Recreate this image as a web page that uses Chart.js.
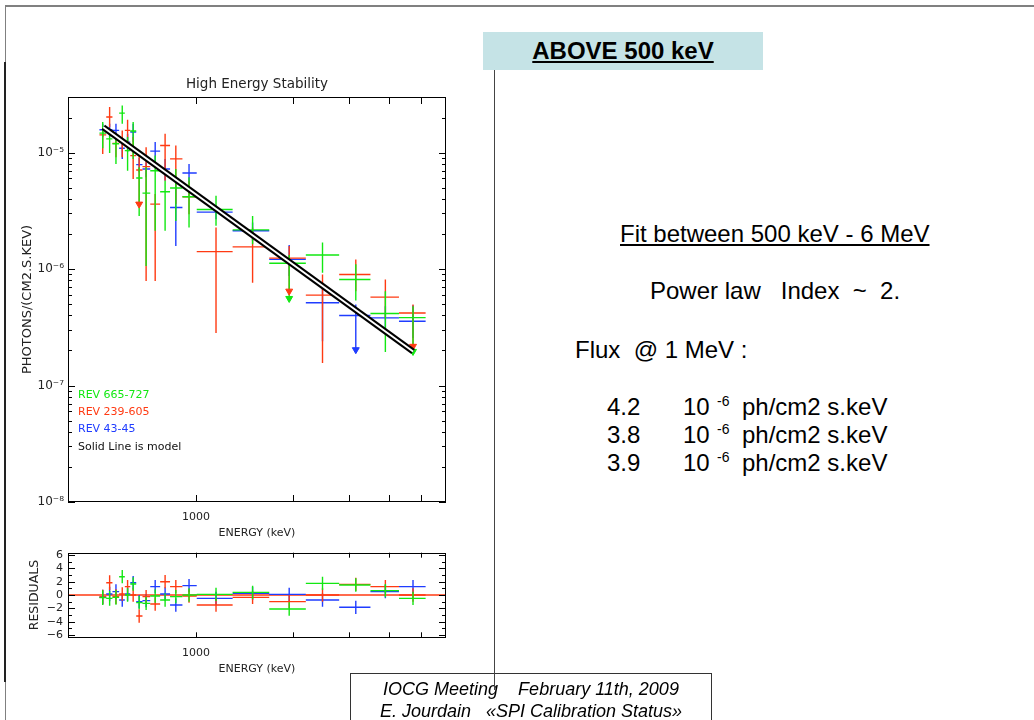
<!DOCTYPE html>
<html>
<head>
<meta charset="utf-8">
<title>High Energy Stability</title>
<script src="https://cdn.jsdelivr.net/npm/chart.js@4.4.1/dist/chart.umd.min.js"></script>
<style>
  html, body { margin: 0; padding: 0; background: #fff; }
  body { position: relative; width: 1034px; height: 720px; overflow: hidden; font-family: "Liberation Sans", Arial, sans-serif; color: #000; }
  .abs { position: absolute; }
  .txt { position: absolute; font-size: 24px; line-height: 24px; white-space: pre; }
  .sup { position: absolute; font-size: 14px; line-height: 14px; white-space: pre; }
  #topRule { left: 5px; top: 5px; width: 1029px; height: 2px; background: #808080; }
  #leftRule { left: 5px; top: 5px; width: 1px; height: 715px; background: #808080; }
  #leftBar { left: 4px; top: 62px; width: 2px; height: 620px; background: #222; }
  #header { left: 483px; top: 32px; width: 280px; height: 38px; background: #c5e3e6; font-weight: bold; font-size: 24px; text-align: center; line-height: 38px; }
  #header span { text-decoration: underline; }
  #divider { left: 494px; top: 70px; width: 1px; height: 620px; background: #444; z-index: 3; }
  #footer { left: 350px; top: 673px; width: 362px; height: 60px; border: 1px solid #333; box-sizing: border-box; padding-top: 4px; font-style: italic; font-size: 18px; line-height: 22px; text-align: center; white-space: pre; }
  canvas { position: absolute; }
</style>
</head>
<body>
<div id="topRule" class="abs"></div>
<div id="leftRule" class="abs"></div>
<div id="leftBar" class="abs"></div>

<canvas id="spectrumChart" width="460" height="475" style="left:0;top:70px"></canvas>
<canvas id="residualChart" width="460" height="145" style="left:0;top:535px"></canvas>

<div id="header" class="abs"><span>ABOVE 500 keV</span></div>
<div id="divider" class="abs"></div>

<div class="txt" style="left:620px;top:222px;text-decoration:underline">Fit between 500 keV - 6 MeV</div>
<div class="txt" style="left:650px;top:279px">Power law   Index  ~  2.</div>
<div class="txt" style="left:575px;top:338px">Flux  @ 1 MeV :</div>

<div class="txt" style="left:607px;top:395px">4.2</div>
<div class="txt" style="left:683px;top:395px">10</div>
<div class="sup" style="left:717px;top:394px">-6</div>
<div class="txt" style="left:742px;top:395px">ph/cm2 s.keV</div>

<div class="txt" style="left:607px;top:423px">3.8</div>
<div class="txt" style="left:683px;top:423px">10</div>
<div class="sup" style="left:717px;top:422px">-6</div>
<div class="txt" style="left:742px;top:423px">ph/cm2 s.keV</div>

<div class="txt" style="left:607px;top:451px">3.9</div>
<div class="txt" style="left:683px;top:451px">10</div>
<div class="sup" style="left:717px;top:450px">-6</div>
<div class="txt" style="left:742px;top:451px">ph/cm2 s.keV</div>

<div id="footer" class="abs">IOCG Meeting    February 11th, 2009
E. Jourdain   «SPI Calibration Status»</div>

<script>
// energy bins (keV)
const energy   = [513, 539, 564, 590, 613, 638, 666, 700, 747, 802, 866, 952, 1155, 1501, 1951, 2477, 3144, 3886, 4737];
const energyLo = [501, 526, 550, 577, 601, 625, 652, 682, 721, 774, 831, 908, 1006, 1301, 1691, 2198, 2791, 3492, 4284];
const energyHi = [526, 550, 577, 601, 625, 652, 682, 721, 774, 831, 908, 1006, 1301, 1691, 2198, 2791, 3492, 4284, 5185];

const seriesLabels = ["REV 665-727", "REV 239-605", "REV 43-45"];
const seriesColors = ["#12e812", "#ff3a12", "#1f3cff"];
const modelLabel = "Solid Line is model";

// REV 665-727 (photons/cm2/s/keV)
const greenFlux = [1.47e-5, 1.31e-5, 1.19e-5, 2.18e-5, 1.04e-5, 1.53e-5, 6.05e-6, 4.49e-6, 6.99e-6, 4.61e-6, 4.96e-6, 4.17e-6, 3.25e-6, 2.17e-6, 1.12e-6, 1.32e-6, 8.14e-7, 4.15e-7, 3.83e-7];
const greenHi   = [1.83e-5, 1.60e-5, 1.45e-5, 2.54e-5, 1.36e-5, 1.83e-5, 7.47e-6, 7.47e-6, 9.42e-6, 5.74e-6, 7.23e-6, 6.13e-6, 4.26e-6, 2.86e-6, 1.32e-6, 1.69e-6, 1.10e-6, 6.46e-7, 4.80e-7];
const greenLo   = [1.09e-5, 9.93e-6, 7.99e-6, 1.77e-5, 6.99e-6, 8.82e-6, 2.86e-6, 1.06e-6, 2.13e-6, 2.13e-6, 2.59e-6, 2.27e-6, 2.35e-6, 1.63e-6, 5.59e-7, 9.30e-7, 5.37e-7, 1.94e-7, 1.96e-7];
const greenArrows = [14, 18];

// REV 239-605
const redFlux = [1.42e-5, 2.02e-5, 1.20e-5, 1.23e-5, 1.55e-5, 9.42e-6, 7.09e-6, 7.57e-6, 3.61e-6, 1.15e-5, 8.82e-6, 4.17e-6, 1.41e-6, 1.55e-6, 1.24e-6, 5.97e-7, 8.99e-7, 5.74e-7, 4.20e-7];
const redHi   = [1.65e-5, 2.46e-5, 1.45e-5, 1.55e-5, 1.91e-5, 1.36e-5, 9.74e-6, 1.11e-5, 4.40e-6, 1.45e-5, 1.15e-5, 5.74e-6, 2.27e-6, 2.27e-6, 1.58e-6, 8.99e-7, 1.21e-6, 8.14e-7, 4.96e-7];
const redLo   = [9.74e-6, 1.65e-5, 9.12e-6, 9.12e-6, 1.11e-5, 5.93e-6, 3.61e-6, 7.88e-7, 7.88e-7, 5.74e-6, 3.61e-6, 2.96e-6, 2.83e-7, 7.62e-7, 6.46e-7, 1.56e-7, 6.46e-7, 3.81e-7, 2.17e-7];
const redArrows = [6, 14, 18];

// REV 43-45
const blueFlux = [1.57e-5, 1.57e-5, 1.55e-5, 1.09e-5, 1.23e-5, 1.50e-5, 7.88e-6, 7.23e-6, 1.03e-5, 7.23e-6, 3.38e-6, 6.68e-6, 3.08e-6, 2.13e-6, 1.21e-6, 5.13e-7, 3.99e-7, 3.81e-7, 3.56e-7];
const blueHi   = [1.77e-5, 1.77e-5, 1.77e-5, 1.31e-5, 1.45e-5, 1.77e-5, 8.99e-6, 8.25e-6, 1.23e-5, 8.82e-6, 5.55e-6, 7.99e-6, 3.49e-6, 2.51e-6, 1.61e-6, 7.38e-7, 4.96e-7, 4.80e-7, 4.89e-7];
const blueLo   = [1.36e-5, 1.36e-5, 1.27e-5, 8.82e-6, 1.01e-5, 1.23e-5, 6.77e-6, 6.13e-6, 7.47e-6, 5.74e-6, 1.58e-6, 5.37e-6, 2.68e-6, 1.74e-6, 8.70e-7, 2.40e-7, 2.03e-7, 2.92e-7, 2.56e-7];
const blueArrows = [16];

// power law model (index ~2)
const modelEnergy = [515, 4740];
const modelFlux = [1.65e-5, 1.96e-7];

// residuals (sigma)
const greenResid = [-0.4, -0.5, -0.35, 2.75, 0, 1.65, -1.15, -1.25, -0.15, -0.75, -0.25, 0, 0.1, 0.4, -2.1, 1.75, 1.5, 0.65, -0.5];
const redResid   = [-0.3, 1.85, -0.25, 0.15, 1.25, 0, -3.15, -0.25, -1.35, 2.0, 1.25, -0.15, -1.5, -0.35, -1.0, 0, 1.6, 1.25, 0];
const blueResid  = [-0.3, 0.15, 0.5, -0.75, 0.15, 1.85, -1.0, -0.85, 1.25, 0.15, -1.5, 1.4, -0.5, 0.25, 0.1, -0.75, -1.85, 0.5, 1.25];
const residErr   = [1.1, 1.1, 1.1, 1.0, 1.0, 1.0, 1.0, 1.0, 1.0, 1.0, 1.0, 1.0, 1.0, 1.0, 1.0, 1.0, 1.0, 1.0, 1.0];

// axes
const energyMin = 400, energyMax = 6000;
const fluxMin = 1e-8, fluxMax = 3e-5;
const energyTicks = [1000, 2000, 3000, 4000, 5000];
const energyLabels = [1000];
const fluxDecades = [1e-8, 1e-7, 1e-6, 1e-5];
const residTicks = [-6, -4, -2, 0, 2, 4, 6];
const residMinor = [-5, -3, -1, 1, 3, 5];

const fontFamily = "'DejaVu Sans', sans-serif";
Chart.defaults.font.family = fontFamily;
Chart.defaults.color = "#222";

const supDigits = { "-": "⁻", "0": "⁰", "1": "¹", "2": "²", "3": "³", "4": "⁴", "5": "⁵", "6": "⁶", "7": "⁷", "8": "⁸", "9": "⁹" };
function powerLabel(v) {
    let e = String(Math.round(Math.log10(v)));
    return "10" + e.split("").map(c => supDigits[c]).join("");
}

// minor log ticks between decades
let fluxMinor = [];
for (let k = -8; k <= -5; k++) {
    for (let m = 2; m <= 9; m++) {
        let v = m * Math.pow(10, k);
        if (v < fluxMax) fluxMinor.push(v);
    }
}

// error crosses as line pieces with gaps between them
function crossPoints(vals, hi, lo) {
    let pts = [];
    vals.forEach((v, i) => {
        pts.push({ x: energyLo[i], y: v }, { x: energyHi[i], y: v }, { x: energy[i], y: NaN });
        pts.push({ x: energy[i], y: hi[i] }, { x: energy[i], y: lo[i] }, { x: energy[i], y: NaN });
    });
    return pts;
}

function arrowPoints(lo, idx) {
    return idx.map(i => ({ x: energy[i], y: lo[i] }));
}

function residPoints(vals) {
    return crossPoints(vals, vals.map((v, i) => v + residErr[i]), vals.map((v, i) => v - residErr[i]));
}

function crossDataset(label, data, color) {
    return {
        label: label,
        data: data,
        showLine: true,
        spanGaps: false,
        borderColor: color,
        borderWidth: 1.4,
        pointRadius: 0,
        order: 5,
    };
}

function arrowDataset(data, color) {
    return {
        data: data,
        showLine: false,
        pointStyle: "triangle",
        rotation: 180,
        pointRadius: 4,
        backgroundColor: color,
        borderColor: color,
        borderWidth: 1,
        order: 4,
    };
}

// frame with inward ticks, like the IDL plot
const idlFrame = {
    id: "idlFrame",
    afterDatasetsDraw(chart, args, opts) {
        const { ctx, chartArea: a, scales: { x, y } } = chart;
        ctx.save();
        ctx.strokeStyle = "#000";
        ctx.lineWidth = 1;
        ctx.strokeRect(Math.round(a.left) + 0.5, Math.round(a.top) + 0.5, Math.round(a.width) - 1, Math.round(a.height) - 1);
        ctx.beginPath();
        opts.xTicks.forEach(v => {
            let px = Math.round(x.getPixelForValue(v)) + 0.5;
            ctx.moveTo(px, a.bottom);
            ctx.lineTo(px, a.bottom - opts.xLen);
            ctx.moveTo(px, a.top);
            ctx.lineTo(px, a.top + opts.xLen);
        });
        const yTick = (v, len) => {
            let py = Math.round(y.getPixelForValue(v)) + 0.5;
            ctx.moveTo(a.left, py);
            ctx.lineTo(a.left + len, py);
            ctx.moveTo(a.right, py);
            ctx.lineTo(a.right - len, py);
        };
        opts.yMajor.forEach(v => yTick(v, opts.majorLen));
        opts.yMinor.forEach(v => yTick(v, opts.minorLen));
        ctx.stroke();

        if (opts.legend) {
            ctx.font = "11px " + fontFamily;
            ctx.textBaseline = "middle";
            ctx.textAlign = "left";
            opts.legend.forEach((item, i) => {
                ctx.fillStyle = item.color;
                ctx.fillText(item.text, a.left + 10, a.top + 298 + i * 17.3);
            });
        }
        ctx.restore();
    },
};

//spectrum chart
let spectrumData = {
    datasets: [
        {
            data: modelEnergy.map((e, i) => ({ x: e, y: modelFlux[i] })),
            showLine: true, borderColor: "#fff", borderWidth: 2, pointRadius: 0, order: 0,
        },
        {
            data: modelEnergy.map((e, i) => ({ x: e, y: modelFlux[i] })),
            showLine: true, borderColor: "#000", borderWidth: 6, pointRadius: 0, order: 1,
        },
        crossDataset(seriesLabels[0], crossPoints(greenFlux, greenHi, greenLo), seriesColors[0]),
        crossDataset(seriesLabels[1], crossPoints(redFlux, redHi, redLo), seriesColors[1]),
        crossDataset(seriesLabels[2], crossPoints(blueFlux, blueHi, blueLo), seriesColors[2]),
        arrowDataset(arrowPoints(greenLo, greenArrows), seriesColors[0]),
        arrowDataset(arrowPoints(redLo, redArrows), seriesColors[1]),
        arrowDataset(arrowPoints(blueLo, blueArrows), seriesColors[2]),
    ],
};

let spectrumOptions = {
    responsive: false,
    animation: false,
    devicePixelRatio: 1,
    layout: { padding: { left: 19.7, right: 14, top: 0, bottom: 5.4 } },
    plugins: {
        legend: { display: false },
        tooltip: { enabled: false },
        title: {
            display: true,
            fullSize: false,
            text: "High Energy Stability",
            font: { size: 13.5, weight: "normal" },
            color: "#222",
            padding: { top: 5.9, bottom: 4.9 },
        },
        idlFrame: {
            xTicks: energyTicks, xLen: 7,
            yMajor: fluxDecades, yMinor: fluxMinor, majorLen: 7, minorLen: 4,
            legend: seriesLabels.map((t, i) => ({ text: t, color: seriesColors[i] })).concat([{ text: modelLabel, color: "#111" }]),
        },
    },
    scales: {
        x: {
            type: "logarithmic",
            min: energyMin,
            max: energyMax,
            bounds: "data",
            grid: { display: false, drawTicks: false },
            border: { display: false },
            ticks: { autoSkip: false, maxRotation: 0, padding: 9, font: { size: 11 }, callback: v => String(v) },
            afterBuildTicks: s => { s.ticks = energyLabels.map(v => ({ value: v })); },
            afterFit: s => { s.height = 37.6; },
            title: { display: true, text: "ENERGY (keV)", padding: 0, font: { size: 11 } },
        },
        y: {
            type: "logarithmic",
            min: fluxMin,
            max: fluxMax,
            bounds: "data",
            grid: { display: false, drawTicks: false },
            border: { display: false },
            ticks: { autoSkip: false, padding: 4, font: { size: 12 }, callback: v => powerLabel(v) },
            afterBuildTicks: s => { s.ticks = fluxDecades.map(v => ({ value: v })); },
            afterFit: s => { s.width = 48.3; },
            title: { display: true, text: "PHOTONS/(CM2.S.KEV)", padding: 0, font: { size: 13 } },
        },
    },
};

new Chart(document.getElementById("spectrumChart").getContext("2d"), {
    type: "scatter",
    data: spectrumData,
    options: spectrumOptions,
    plugins: [idlFrame],
});

//residuals chart
let residualData = {
    datasets: [
        {
            data: [{ x: energyMin, y: 0 }, { x: energyMax, y: 0 }],
            showLine: true, borderColor: "#ff3a12", borderWidth: 1.4, pointRadius: 0, order: 6,
        },
        crossDataset(seriesLabels[0], residPoints(greenResid), seriesColors[0]),
        crossDataset(seriesLabels[1], residPoints(redResid), seriesColors[1]),
        crossDataset(seriesLabels[2], residPoints(blueResid), seriesColors[2]),
    ],
};

let residualOptions = {
    responsive: false,
    animation: false,
    devicePixelRatio: 1,
    layout: { padding: { left: 27.5, right: 14, top: 17.7, bottom: 4.4 } },
    plugins: {
        legend: { display: false },
        tooltip: { enabled: false },
        idlFrame: {
            xTicks: energyTicks, xLen: 5,
            yMajor: residTicks, yMinor: residMinor, majorLen: 7, minorLen: 4,
        },
    },
    scales: {
        x: {
            type: "logarithmic",
            min: energyMin,
            max: energyMax,
            bounds: "data",
            grid: { display: false, drawTicks: false },
            border: { display: false },
            ticks: { autoSkip: false, maxRotation: 0, padding: 9, font: { size: 11 }, callback: v => String(v) },
            afterBuildTicks: s => { s.ticks = energyLabels.map(v => ({ value: v })); },
            afterFit: s => { s.height = 38.3; },
            title: { display: true, text: "ENERGY (keV)", padding: 0, font: { size: 11 } },
        },
        y: {
            type: "linear",
            min: -6.35,
            max: 6.35,
            grid: { display: false, drawTicks: false },
            border: { display: false },
            ticks: { autoSkip: false, padding: 5, font: { size: 11 }, callback: v => String(v).replace("-", "−") },
            afterBuildTicks: s => { s.ticks = residTicks.map(v => ({ value: v })); },
            afterFit: s => { s.width = 40.5; },
            title: { display: true, text: "RESIDUALS", padding: 0, font: { size: 12.5 } },
        },
    },
};

new Chart(document.getElementById("residualChart").getContext("2d"), {
    type: "scatter",
    data: residualData,
    options: residualOptions,
    plugins: [idlFrame],
});
</script>
</body>
</html>
